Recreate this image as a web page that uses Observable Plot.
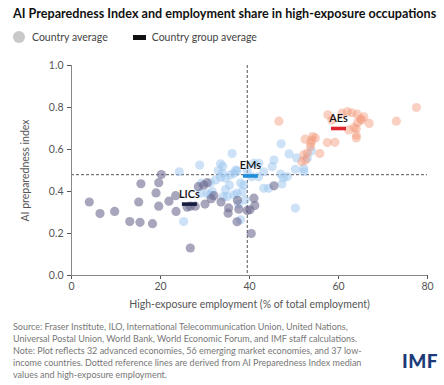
<!DOCTYPE html>
<html><head><meta charset="utf-8">
<script src="https://cdn.jsdelivr.net/npm/d3@7"></script>
<script src="https://cdn.jsdelivr.net/npm/@observablehq/plot@0.6"></script>
<style>
body{margin:0;width:444px;height:385px;position:relative;font-family:Lato,"Open Sans",sans-serif;background:#fff;overflow:hidden}
#title{position:absolute;left:13px;top:6px;font-weight:700;font-size:12.6px;color:#111;white-space:nowrap}
#legend{position:absolute;left:13px;top:30px;height:14px;font-size:10.5px;color:#444;display:flex;align-items:center;white-space:nowrap}
#legend .c{width:12px;height:12px;border-radius:50%;background:#c9c9c9;margin-right:7px}
#legend .r{width:13px;height:5px;background:#111;margin-left:25px;margin-right:6px}
#chart{position:absolute;left:0;top:50px}
#caption{position:absolute;left:13px;top:321px;font-size:9px;line-height:12px;color:#777;white-space:nowrap}
#logo{position:absolute;left:402px;top:349px;font-size:19px;font-weight:900;color:#1c3b78;letter-spacing:0.5px}
</style></head>
<body>
<div id="title">AI Preparedness Index and employment share in high-exposure occupations</div>
<div id="legend"><span class="c"></span>Country average<span class="r"></span>Country group average</div>
<div id="chart"></div>
<div id="caption">Source: Fraser Institute, ILO, International Telecommunication Union, United Nations,<br>Universal Postal Union, World Bank, World Economic Forum, and IMF staff calculations.<br>Note: Plot reflects 32 advanced economies, 56 emerging market economies, and 37 low-<br>income countries. Dotted reference lines are derived from AI Preparedness Index median<br>values and high-exposure employment.</div>
<div id="logo">IMF</div>
<script>
// Advanced economies
const aeX = [46.6,57.6,60.8,62.0,64.2,65.7,64.9,64.3,66.9,64.0,62.3,63.5,64.0,64.0,73.0,77.5,52.5,54.2,53.8,53.7,57.5,59.2,53.0,52.2,55.8,52.6,51.8,58.5,63.0,65.2,54.0,54.8];
const aeY = [0.735,0.765,0.773,0.78,0.768,0.755,0.745,0.728,0.724,0.70,0.693,0.705,0.668,0.655,0.735,0.80,0.649,0.662,0.63,0.613,0.633,0.634,0.583,0.575,0.581,0.55,0.542,0.74,0.775,0.74,0.645,0.655];
// Emerging market economies
const emX = [36.1,28.8,33.5,33.0,24.2,33.9,37.2,32.4,31.2,33.5,34.6,35.7,38.0,38.4,34.6,31.6,31.2,29.0,37.2,25.2,34.1,36.5,29.2,30.5,36.5,38.7,35.0,38.0,43.2,44.3,47.3,47.0,48.5,50.3,52.2,52.2,50.3,45.1,45.5,41.0,42.1,43.2,47.1,48.9,50.6,53.0,53.9,47.6,39.5,40.5,36.9,34.0,35.5,39.0,42.0,37.5];
const emY = [0.581,0.526,0.532,0.50,0.494,0.487,0.498,0.455,0.44,0.468,0.463,0.479,0.44,0.40,0.408,0.40,0.384,0.392,0.392,0.257,0.376,0.384,0.44,0.389,0.487,0.431,0.376,0.265,0.415,0.415,0.436,0.483,0.471,0.506,0.494,0.51,0.321,0.518,0.55,0.534,0.534,0.494,0.627,0.579,0.56,0.559,0.593,0.466,0.50,0.47,0.502,0.52,0.43,0.36,0.47,0.34];
// Low-income countries
const licX = [4.0,6.4,9.7,13.1,15.4,18.2,15.1,15.6,19.0,19.6,20.2,19.6,21.9,23.5,23.4,26.7,26.0,27.8,26.7,28.5,29.7,30.5,30.0,31.4,32.0,33.6,35.3,35.2,37.3,37.2,37.6,40.1,41.0,41.2,40.4,45.5,39.5];
const licY = [0.35,0.295,0.305,0.257,0.253,0.247,0.35,0.437,0.393,0.442,0.481,0.33,0.354,0.305,0.38,0.33,0.325,0.33,0.131,0.423,0.43,0.442,0.34,0.366,0.38,0.35,0.322,0.297,0.358,0.256,0.316,0.313,0.368,0.333,0.2,0.427,0.31];
// Country group averages
const groupNames = ["AEs","EMs","LICs"];
const groupX = [60.0,40.2,26.5];
const groupY = [0.70,0.474,0.34];
const groupColors = ["#e0262c","#1e8fd8","#161c3d"];
// Median reference lines
const medianX = 39.5;
const medianY = 0.48;
const xTicks = [0,20,40,60,80];
const yTicks = [0,0.2,0.4,0.6,0.8,1.0];

const toPts = (xs, ys) => xs.map((x, i) => ({x, y: ys[i]}));
const ae = toPts(aeX, aeY), em = toPts(emX, emY), lic = toPts(licX, licY);
const groups = groupNames.map((name, i) => ({name, x: groupX[i], y: groupY[i], color: groupColors[i]}));
const bar = {draw(ctx){ ctx.rect(-7.5, -1.8, 15, 3.6); }};

const chart = Plot.plot({
  width: 444, height: 265,
  marginTop: 15, marginBottom: 40, marginLeft: 71, marginRight: 17,
  style: {fontFamily: "Lato, 'Open Sans', sans-serif", fontSize: "10.5px", color: "#555", background: "transparent"},
  x: {domain: [0, 80]},
  y: {domain: [0, 1]},
  marks: [
    Plot.ruleY([medianY], {stroke: "#555", strokeDasharray: "3,2", strokeWidth: 1}),
    Plot.ruleX([medianX], {stroke: "#555", strokeDasharray: "3,2", strokeWidth: 1}),
    Plot.dot(em, {x: "x", y: "y", r: 4.6, fill: "#9cc6ef", fillOpacity: 0.5}),
    Plot.dot(lic, {x: "x", y: "y", r: 4.6, fill: "#6d6b90", fillOpacity: 0.6}),
    Plot.dot(ae, {x: "x", y: "y", r: 4.6, fill: "#f29677", fillOpacity: 0.45}),
    Plot.axisX({ticks: xTicks, tickSize: 4, tickPadding: 3, label: "High-exposure employment (% of total employment)", labelAnchor: "center", labelOffset: 32, labelArrow: "none"}),
    Plot.axisY({ticks: yTicks, tickSize: 4, tickPadding: 4, tickFormat: d3.format(".1f"), label: "AI preparedness index", labelAnchor: "center", labelOffset: 50, labelArrow: "none"}),
    Plot.ruleX([0], {stroke: "#888"}),
    Plot.ruleY([0], {stroke: "#888"}),
    Plot.dot(groups, {x: "x", y: "y", symbol: bar, fill: "color", r: 5}),
    Plot.text(groups, {x: "x", y: "y", text: "name", dy: -10, fontWeight: 600, fontSize: 11, fill: "#111"})
  ],
  color: {type: "identity"}
});
document.getElementById("chart").appendChild(chart);
</script>
</body></html>
